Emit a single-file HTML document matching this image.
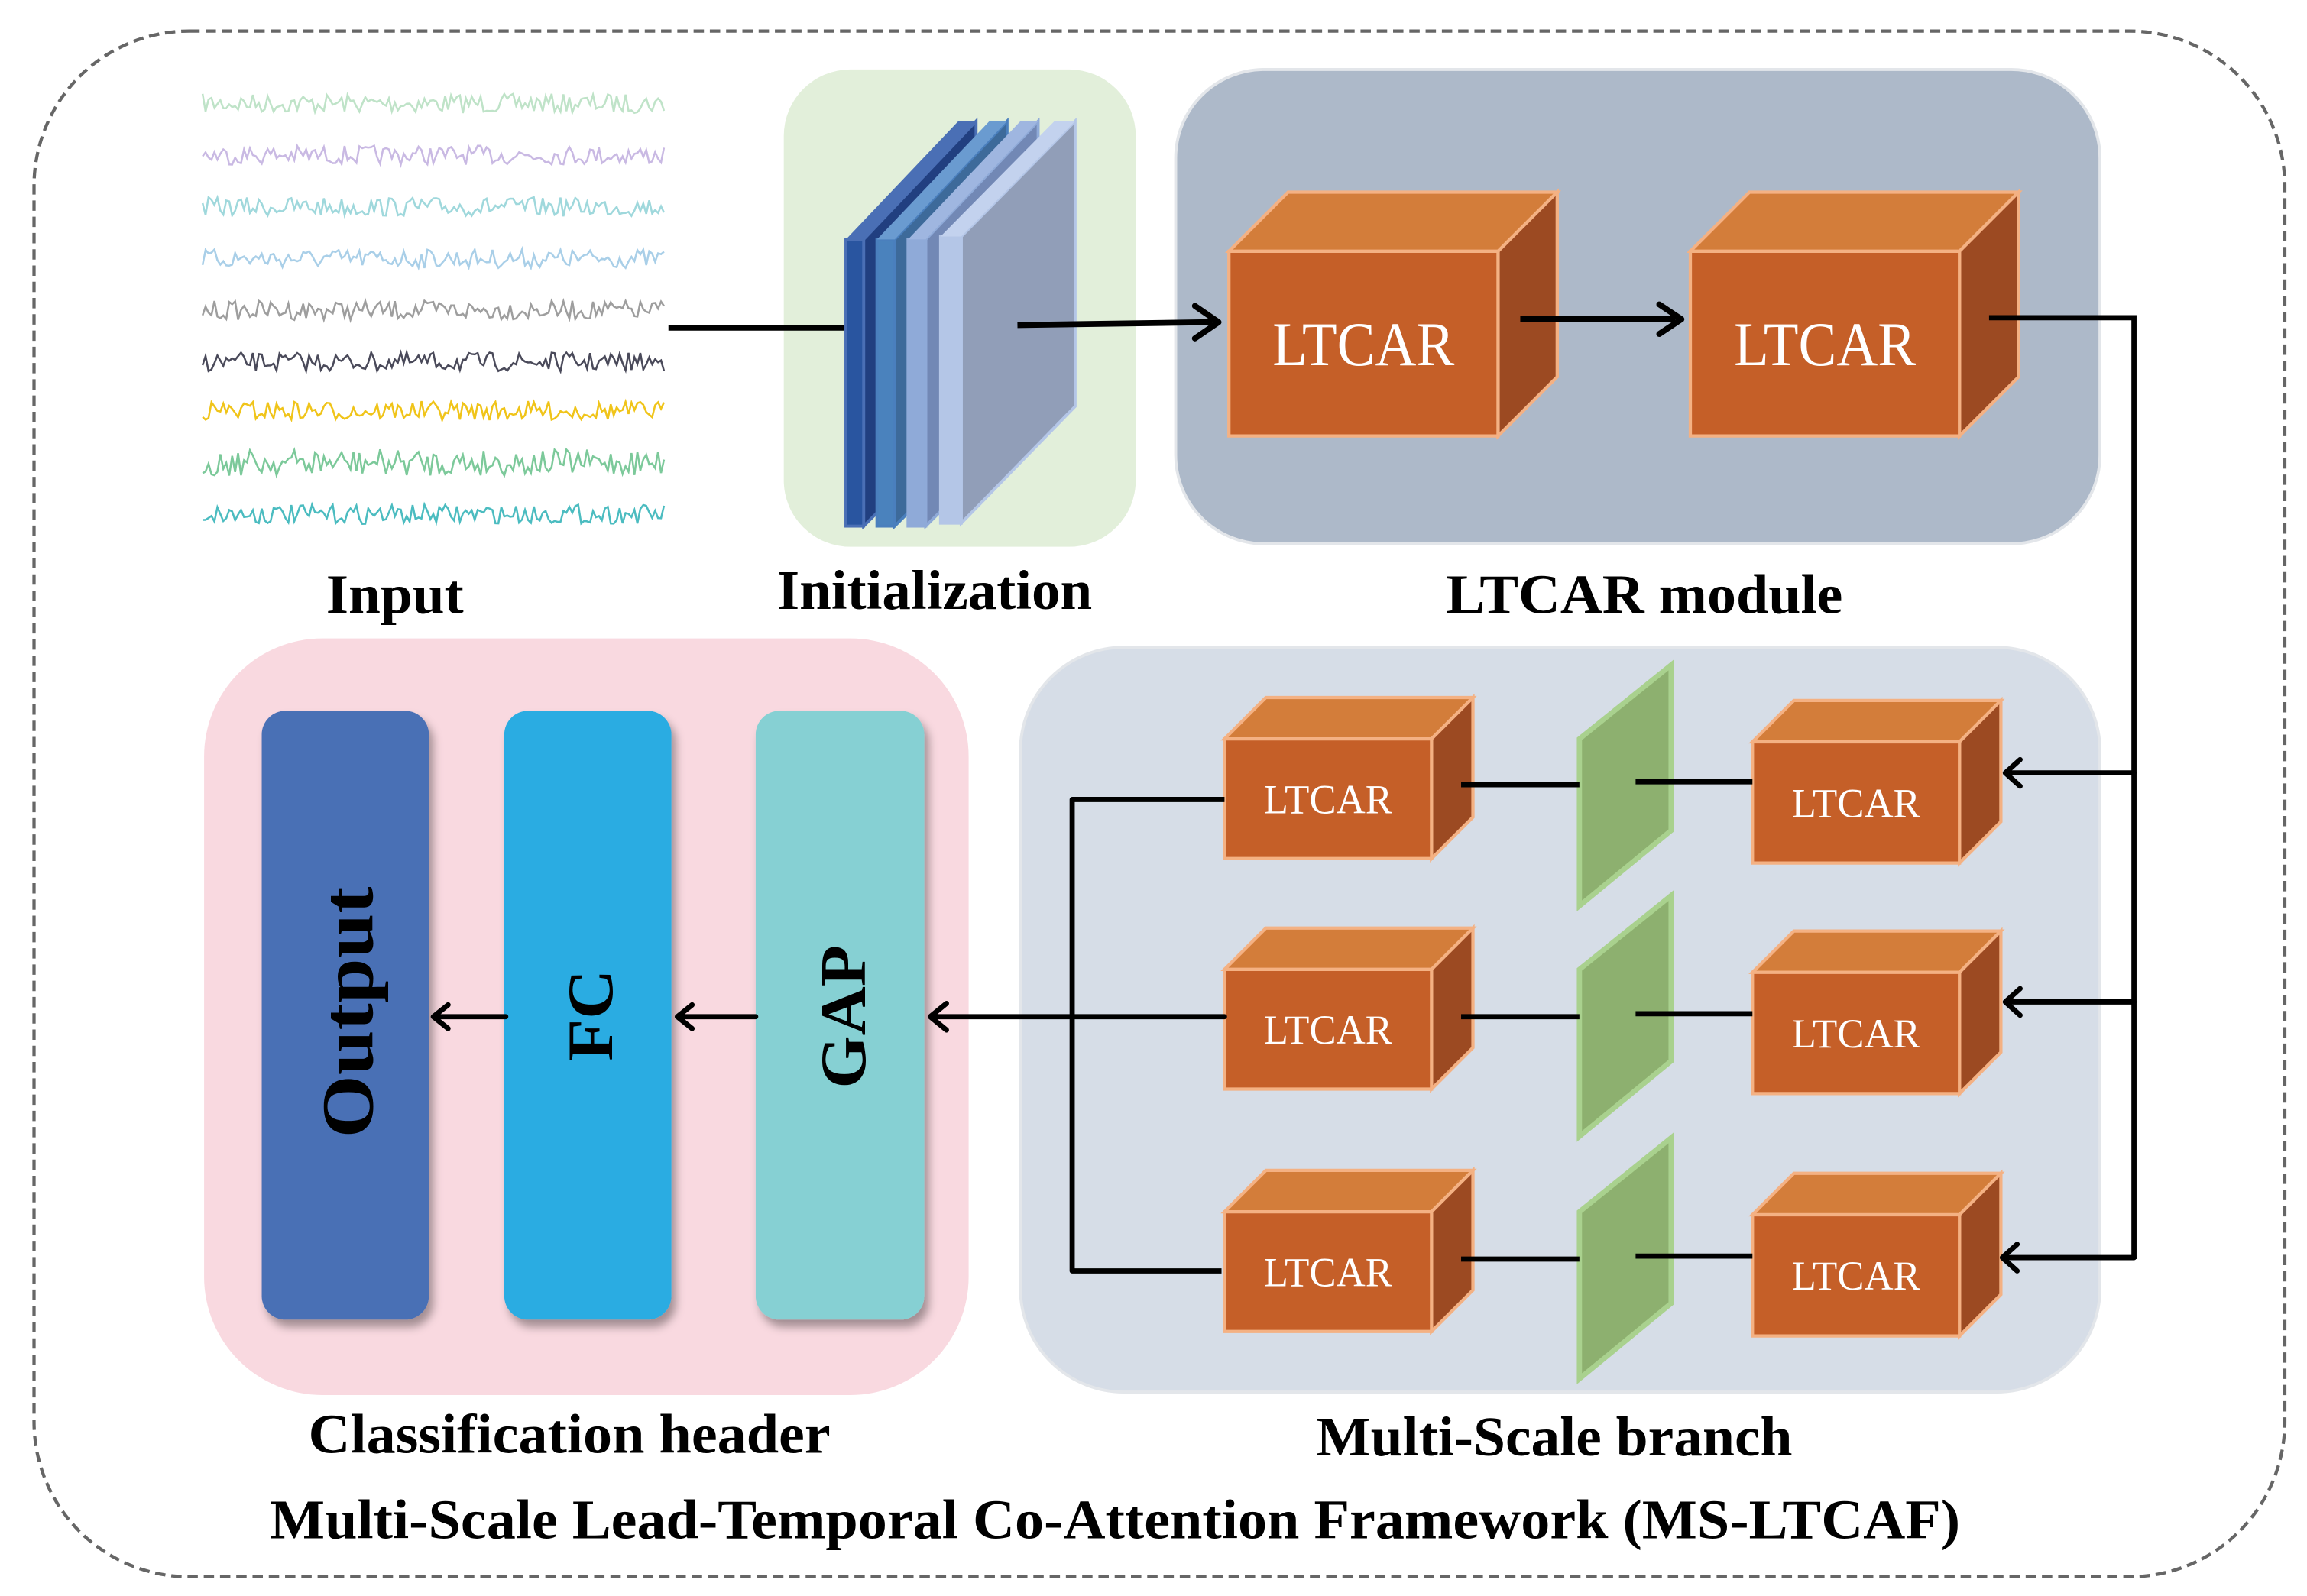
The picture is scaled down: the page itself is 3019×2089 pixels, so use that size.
<!DOCTYPE html>
<html><head><meta charset="utf-8">
<style>
html,body{margin:0;padding:0;background:#fff;}
svg{display:block;}
text{font-family:"Liberation Serif",serif;}
</style></head>
<body>
<svg id="s" width="3019" height="2089" viewBox="0 0 1560 1080" preserveAspectRatio="none" xmlns="http://www.w3.org/2000/svg">
<defs>
<filter id="sh" x="-20%" y="-20%" width="150%" height="150%"><feDropShadow dx="3" dy="5" stdDeviation="3" flood-color="#000" flood-opacity="0.35"/></filter>
</defs>
<rect x="23" y="21" width="1522" height="1046" rx="105" fill="#fff" stroke="#666" stroke-width="2.2" stroke-dasharray="7,4"/>

<g id="sig"></g>

<!-- Initialization -->
<rect x="530" y="47" width="238" height="323" rx="45" fill="#e2efda"/>
<line x1="452" y1="222" x2="574" y2="222" stroke="#000" stroke-width="3.5"/>
<g stroke-width="2">
<polygon points="584,162 660,82 660,280 584,356" fill="#213f80" stroke="#4a6fb5"/>
<rect x="572" y="162" width="12" height="194" fill="#2955a0" stroke="#4a6fb5"/>
<polygon points="572,162 648,82 660,82 584,162" fill="#4a6fb5"/>
<polygon points="605,162 681,82 681,280 605,356" fill="#3d6a9a" stroke="#4a7fbd"/>
<rect x="593" y="162" width="12" height="194" fill="#4a82bd" stroke="#4a7fbd"/>
<polygon points="593,162 669,82 681,82 605,162" fill="#6a9bd0"/>
<polygon points="626,162 702,82 702,280 626,356" fill="#7288b5" stroke="#8faad8"/>
<rect x="614" y="162" width="12" height="194" fill="#8faad8" stroke="#8faad8"/>
<polygon points="614,162 690,82 702,82 626,162" fill="#9fb6e0"/>
<polygon points="650,160 727,82 727,275 650,354" fill="#919eb8" stroke="#b4c6e7"/>
<rect x="636" y="160" width="14" height="194" fill="#b4c6e7" stroke="#b4c6e7"/>
<polygon points="636,160 713,82 727,82 650,160" fill="#c3d2ee"/>
</g>

<!-- LTCAR module -->
<rect x="795" y="47" width="625" height="321" rx="60" fill="#adb9c9" stroke="#e3e6ea" stroke-width="2"/>
<line x1="688" y1="220" x2="820" y2="218" stroke="#000" stroke-width="4"/>
<polyline points="808,207 824,218 808,229" fill="none" stroke="#000" stroke-width="4" stroke-linecap="round" stroke-linejoin="round"/>
<g id="cubes"></g>
<line x1="1028" y1="216" x2="1133" y2="216" stroke="#000" stroke-width="4"/>
<polyline points="1122,206 1137,216 1122,226" fill="none" stroke="#000" stroke-width="4" stroke-linecap="round" stroke-linejoin="round"/>
<polyline points="1345,215 1443,215 1443,852" fill="none" stroke="#000" stroke-width="3.5"/>

<!-- Classification header -->
<rect x="138" y="432" width="517" height="512" rx="80" fill="#f9d9e0"/>
<rect x="177" y="481" width="113" height="412" rx="16" fill="#4a6fb5" filter="url(#sh)"/>
<rect x="341" y="481" width="113" height="412" rx="16" fill="#2aace2" filter="url(#sh)"/>
<rect x="511" y="481" width="114" height="412" rx="16" fill="#86d0d3" filter="url(#sh)"/>
<text transform="translate(252,685) rotate(-90)" text-anchor="middle" font-size="50" font-weight="bold" textLength="170" lengthAdjust="spacingAndGlyphs">Output</text>
<text transform="translate(414,687) rotate(-90)" text-anchor="middle" font-size="44" font-weight="bold" textLength="62" lengthAdjust="spacingAndGlyphs">FC</text>
<text transform="translate(585,688) rotate(-90)" text-anchor="middle" font-size="44" font-weight="bold" textLength="97" lengthAdjust="spacingAndGlyphs">GAP</text>
<g stroke="#000" stroke-width="3.5" fill="none" stroke-linecap="round" stroke-linejoin="round">
<line x1="342" y1="688" x2="294" y2="688"/><polyline points="303,680 293,688 303,696"/>
<line x1="511" y1="688" x2="459" y2="688"/><polyline points="468,680 458,688 468,696"/>
</g>

<!-- Multi-scale -->
<rect x="690" y="438" width="730" height="504" rx="70" fill="#d6dde7" stroke="#e3e6ea" stroke-width="2"/>
<g id="small"></g>
<g stroke="#000" stroke-width="3.5" fill="none" stroke-linejoin="round" stroke-linecap="round">
<line x1="828" y1="688" x2="630" y2="688"/><polyline points="640,679 629,688 640,697"/>
<polyline points="828,541 725,541 725,860 826,860" stroke-linecap="butt"/>
<line x1="1443" y1="523" x2="1358" y2="523"/><polyline points="1366,514 1356,523 1366,532"/>
<line x1="1443" y1="678" x2="1358" y2="678"/><polyline points="1366,669 1356,678 1366,687"/>
<line x1="1443" y1="851" x2="1356" y2="851"/><polyline points="1364,842 1354,851 1364,860"/>
</g>

<g font-weight="bold" font-size="38" text-anchor="middle" lengthAdjust="spacingAndGlyphs">
<text x="267" y="415" textLength="93" lengthAdjust="spacingAndGlyphs">Input</text>
<text x="632" y="412" textLength="213" lengthAdjust="spacingAndGlyphs">Initialization</text>
<text x="1112" y="415" textLength="268" lengthAdjust="spacingAndGlyphs">LTCAR module</text>
<text x="385" y="983" textLength="353" lengthAdjust="spacingAndGlyphs">Classification header</text>
<text x="1051" y="985" textLength="322" lengthAdjust="spacingAndGlyphs">Multi-Scale branch</text>
<text x="754" y="1041" textLength="1143" lengthAdjust="spacingAndGlyphs">Multi-Scale Lead-Temporal Co-Attention Framework (MS-LTCAF)</text>
</g>
</svg>
<script>
var NS="http://www.w3.org/2000/svg";
function el(t,a,p){var e=document.createElementNS(NS,t);for(var k in a)e.setAttribute(k,a[k]);p.appendChild(e);return e;}
var seed=7;function rnd(){seed=(seed*16807)%2147483647;return seed/2147483647;}
var cols=["#bfe3c8","#c9b9e3","#9fd8dc","#a9cfe8","#9e9e9e","#4a4a5a","#f0c419","#7cc99a","#4bbcc0"];
var ys=[70,105,140,175,210,245,278,313,348];
var sg=document.getElementById("sig");
for(var i=0;i<9;i++){var p=[];for(var x=137;x<=450;x+=2){p.push(x+","+(ys[i]+(rnd()-0.5)*(i==7?18:13)).toFixed(1));}
el("polyline",{points:p.join(" "),fill:"none",stroke:cols[i],"stroke-width":1.3},sg);}
function cube(g,x,y,w,h,d,fs,tw){
var s={stroke:"#f4b183","stroke-width":2.2,"stroke-linejoin":"miter"};
function P(pts,f){var a={points:pts,fill:f};for(var k in s)a[k]=s[k];el("polygon",a,g);}
P(x+","+y+" "+(x+d)+","+(y-d)+" "+(x+w+d)+","+(y-d)+" "+(x+w)+","+y,"#d37d3a");
P((x+w)+","+y+" "+(x+w+d)+","+(y-d)+" "+(x+w+d)+","+(y+h-d)+" "+(x+w)+","+(y+h),"#9c4a22");
P(x+","+y+" "+(x+w)+","+y+" "+(x+w)+","+(y+h)+" "+x+","+(y+h),"#c55f28");
var t=el("text",{x:x+w/2,y:y+h/2+fs*0.35,"text-anchor":"middle","font-size":fs,fill:"#fff",textLength:tw,lengthAdjust:"spacingAndGlyphs"},g);t.textContent="LTCAR";}
var cg=document.getElementById("cubes");
cube(cg,831,170,182,125,40,42,123);cube(cg,1143,170,182,125,40,42,123);
var sm=document.getElementById("small");
var rows=[[500,502,531,529,450],[656,658,688,686,606],[820,822,852,850,770]];
rows.forEach(function(r){
cube(sm,828,r[0],140,81,28,28,87);cube(sm,1185,r[1],140,82,28,28,87);
el("polygon",{points:"1068,"+(r[4]+50)+" 1130,"+r[4]+" 1130,"+(r[4]+112)+" 1068,"+(r[4]+163),fill:"#8db06f",stroke:"#a9d18e","stroke-width":3.5},sm);
el("line",{x1:988,y1:r[2],x2:1068,y2:r[2],stroke:"#000","stroke-width":3.5},sm);
el("line",{x1:1106,y1:r[3],x2:1185,y2:r[3],stroke:"#000","stroke-width":3.5},sm);
});
</script>
</body></html>
